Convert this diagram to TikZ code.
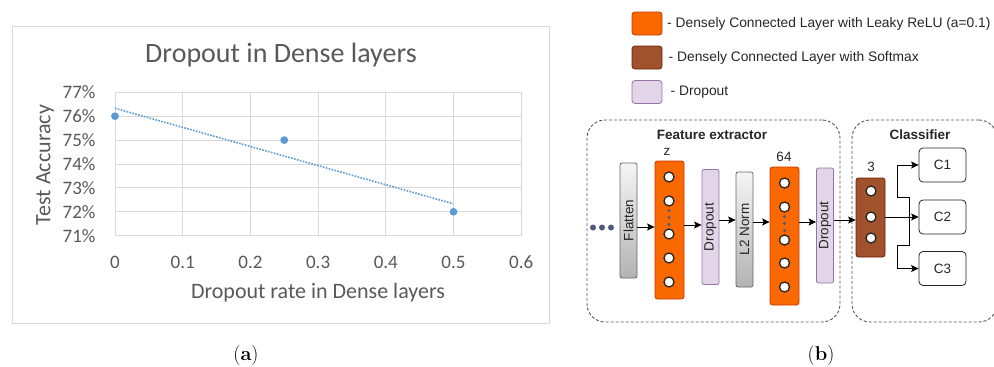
\documentclass[tikz,border=0pt]{standalone}
\usepackage{fontspec}
\newfontfamily\chartfont{Carlito}
\newfontfamily\diafont{Liberation Sans}
\usetikzlibrary{arrows.meta}

\definecolor{ink}{HTML}{262626}
\definecolor{chartgray}{HTML}{595959}
\definecolor{gridgray}{HTML}{D9D9D9}
\definecolor{ptblue}{HTML}{5B9BD5}
\definecolor{org}{HTML}{FA6800}
\definecolor{orgline}{HTML}{C73500}
\definecolor{brn}{HTML}{A0522D}
\definecolor{brnline}{HTML}{6D1F00}
\definecolor{lav}{HTML}{E1D5E7}
\definecolor{lavline}{HTML}{9673A6}
\definecolor{grytop}{HTML}{F5F5F5}
\definecolor{grybot}{HTML}{B3B3B3}
\definecolor{gryline}{HTML}{666666}
\definecolor{dotslate}{HTML}{4D5B78}
\definecolor{groupline}{HTML}{555555}

\tikzset{
  txt/.style={inner sep=0pt, text=ink, font=\diafont\fontsize{13.5}{16}\selectfont},
  legtxt/.style={inner sep=0pt, text=ink, font=\diafont\fontsize{13.8}{16}\selectfont},
  btxt/.style={txt, font=\diafont\bfseries\fontsize{13.5}{16}\selectfont},
  ctick/.style={inner sep=0pt, text=chartgray, font=\chartfont\fontsize{19}{22}\selectfont},
  ctitle/.style={inner sep=0pt, text=chartgray, font=\chartfont\fontsize{22}{26}\selectfont},
  cmain/.style={inner sep=0pt, text=chartgray, font=\chartfont\fontsize{28}{32}\selectfont},
  sublabel/.style={inner sep=0pt, font=\fontsize{20}{24}\selectfont},
  grid line/.style={draw=gridgray, line width=0.9pt},
  dense/.style={draw=orgline, fill=org, rounded corners=2.5pt, line width=0.8pt,
    minimum width=29pt, minimum height=138pt, inner sep=0pt},
  softmax/.style={draw=brnline, fill=brn, rounded corners=2.5pt, line width=0.8pt,
    minimum width=29pt, minimum height=79pt, inner sep=0pt},
  dropbox/.style={draw=lavline, fill=lav, rounded corners=2pt, line width=0.8pt,
    minimum width=17pt, minimum height=115pt, inner sep=0pt, txt},
  graybox/.style={draw=gryline, top color=grytop, bottom color=grybot, rounded corners=2pt,
    line width=0.8pt, minimum width=17pt, minimum height=115pt, inner sep=0pt, txt},
  neuron/.style={circle, draw=ink, fill=white, line width=1.3pt, minimum size=10pt, inner sep=0pt},
  classbox/.style={draw=ink, fill=white, rounded corners=4pt, line width=0.8pt,
    minimum width=47pt, minimum height=34pt, inner sep=0pt, txt},
  group/.style={draw=groupline, dash pattern=on 3pt off 2pt, line width=0.9pt,
    rounded corners=18pt, inner sep=0pt},
  legendbox/.style={rounded corners=3pt, line width=0.8pt, minimum width=30pt,
    minimum height=23pt, inner sep=0pt},
  arr/.style={draw=black, line width=1pt, -{Stealth[length=7.5pt,width=7pt,inset=1.5pt]}},
}

\begin{document}
\begin{tikzpicture}[x=1pt,y=-1pt]
\useasboundingbox (0,0) rectangle (994,367);

% ---------------- chart ----------------
\node[draw=gridgray, line width=0.9pt, fill=white, minimum width=536.5pt,
      minimum height=296.5pt, inner sep=0pt] (chartframe) at (280.75,175) {};
\node[cmain] (ctitle) at (281,55) {Dropout in Dense layers};

\begin{scope}[shift={(115,235.7)}, x=677pt, y=23.9pt]
  \foreach \i in {0,...,6} {
    \draw[grid line] (0,\i) -- (0.6,\i);
    \draw[grid line] (0.1*\i,0) -- (0.1*\i,6);
  }
  \foreach \i/\lab in {0/71,1/72,2/73,3/74,4/75,5/76,6/77}
    \node[ctick, anchor=east] (ylab\lab) at (-0.0285,\i) {\lab\%};
  \foreach \i/\lab in {0/0,1/0.1,2/0.2,3/0.3,4/0.4,5/0.5,6/0.6}
    \node[ctick] (xlab\i) at (0.1*\i,-1.1) {\lab};
  % linear trend of the three measurements
  \draw[ptblue, line width=1.6pt, dash pattern=on 1.6pt off 1.4pt]
    (0,5.333) -- (0.5,1.333);
  \fill[ptblue] (0,5) circle[radius=3.9pt];
  \fill[ptblue] (0.25,4) circle[radius=3.9pt];
  \fill[ptblue] (0.5,1) circle[radius=3.9pt];
\end{scope}

\node[ctitle] (xtitle) at (318,292.5) {Dropout rate in Dense layers};
\node[ctitle, rotate=90] (ytitle) at (45,165) {Test Accuracy};

\node[sublabel] (suba) at (246,356) {(\textbf{a})};
\node[sublabel] (subb) at (821,356) {(\textbf{b})};

% ---------------- legend ----------------
\node[legendbox, draw=orgline, fill=org] (leg1) at (647,23.5) {};
\node[legendbox, draw=brnline, fill=brn] (leg2) at (647,57.5) {};
\node[legendbox, draw=lavline, fill=lav] (leg3) at (647,92) {};
\node[legtxt, anchor=west] (legt1) at (667,24) {- Densely Connected Layer with Leaky ReLU (a=0.1)};
\node[legtxt, anchor=west] (legt2) at (668.5,58) {- Densely Connected Layer with Softmax};
\node[legtxt, anchor=west] (legt3) at (670.5,92) {- Dropout};

% ---------------- network ----------------
\node[group, minimum width=253pt, minimum height=202pt] (feat) at (713.5,221) {};
\node[group, minimum width=145pt, minimum height=202pt] (clsf) at (924.5,221) {};
\node[btxt] (feattitle) at (712,135) {Feature extractor};
\node[btxt] (clsftitle) at (920,135) {Classifier};

% input ellipsis
\foreach \k/\xx in {1/593,2/602,3/611}
  \fill[dotslate] (\xx,227.5) circle[radius=3pt];

\node[graybox] (flat) at (628.5,220.5) {\rotatebox{90}{Flatten}};
\node[dense] (d1) at (669.5,230) {};
\node[dropbox] (drop1) at (710.5,227) {\rotatebox{90}{Dropout}};
\node[graybox] (norm) at (744.5,229.5) {\rotatebox{90}{L2 Norm}};
\node[dense] (d2) at (784.5,236) {};
\node[dropbox] (drop2) at (825,225.5) {\rotatebox{90}{Dropout}};
\node[softmax] (sm) at (870.5,217.5) {};

\node[txt] (zlab) at (667,152) {z};
\node[txt] (lab64) at (784,157) {64};
\node[txt] (lab3) at (871,167) {3};

% units of the first dense layer
\foreach \n/\yy in {1/177,2/201,3/234,4/258,5/282}
  \node[neuron] (da\n) at (669,\yy) {};
\foreach \yy in {210.5,217.5,224.5}
  \fill[dotslate] (669,\yy) circle[radius=1.7pt];

% units of the second dense layer
\foreach \n/\yy in {1/183,2/207,3/240,4/263,5/287}
  \node[neuron] (db\n) at (784.5,\yy) {};
\foreach \yy in {216.5,223.5,230.5}
  \fill[dotslate] (784.5,\yy) circle[radius=1.7pt];

% softmax units
\foreach \n/\yy in {1/191,2/217,3/238}
  \node[neuron] (sc\n) at (871,\yy) {};

\node[classbox] (c1) at (942.5,165) {C1};
\node[classbox] (c2) at (942.5,217) {C2};
\node[classbox] (c3) at (942.5,268.5) {C3};

% forward connections
\draw[arr] ([yshift=-6.5pt]flat.east) -- ([yshift=-6.5pt]flat.east -| d1.west);
\draw[arr] ([yshift=5pt]d1.east) -- ([yshift=5pt]d1.east -| drop1.west);
\draw[arr] ([yshift=7pt]drop1.east) -- ([yshift=7pt]drop1.east -| norm.west);
\draw[arr] ([yshift=7.5pt]norm.east) -- ([yshift=7.5pt]norm.east -| d2.west);
\draw[arr] ([yshift=14pt]d2.east) -- ([yshift=14pt]d2.east -| drop2.west);
\draw[arr] ([yshift=5.5pt]drop2.east) -- ([yshift=5.5pt]drop2.east -| sm.west);

% fan-out to the classes
\coordinate (split) at (909,217);
\coordinate (upA) at (909,197);
\coordinate (upB) at (897,197);
\coordinate (dnA) at (909,245);
\coordinate (dnB) at (897,245);
\draw[arr] (sm.east |- split) -- (c2.west);
\draw[arr] (split) -- (upA) -- (upB) -- (upB |- c1.west) -- (c1.west);
\draw[arr] (split) -- (dnA) -- (dnB) -- (dnB |- c3.west) -- (c3.west);
\end{tikzpicture}
\end{document}
